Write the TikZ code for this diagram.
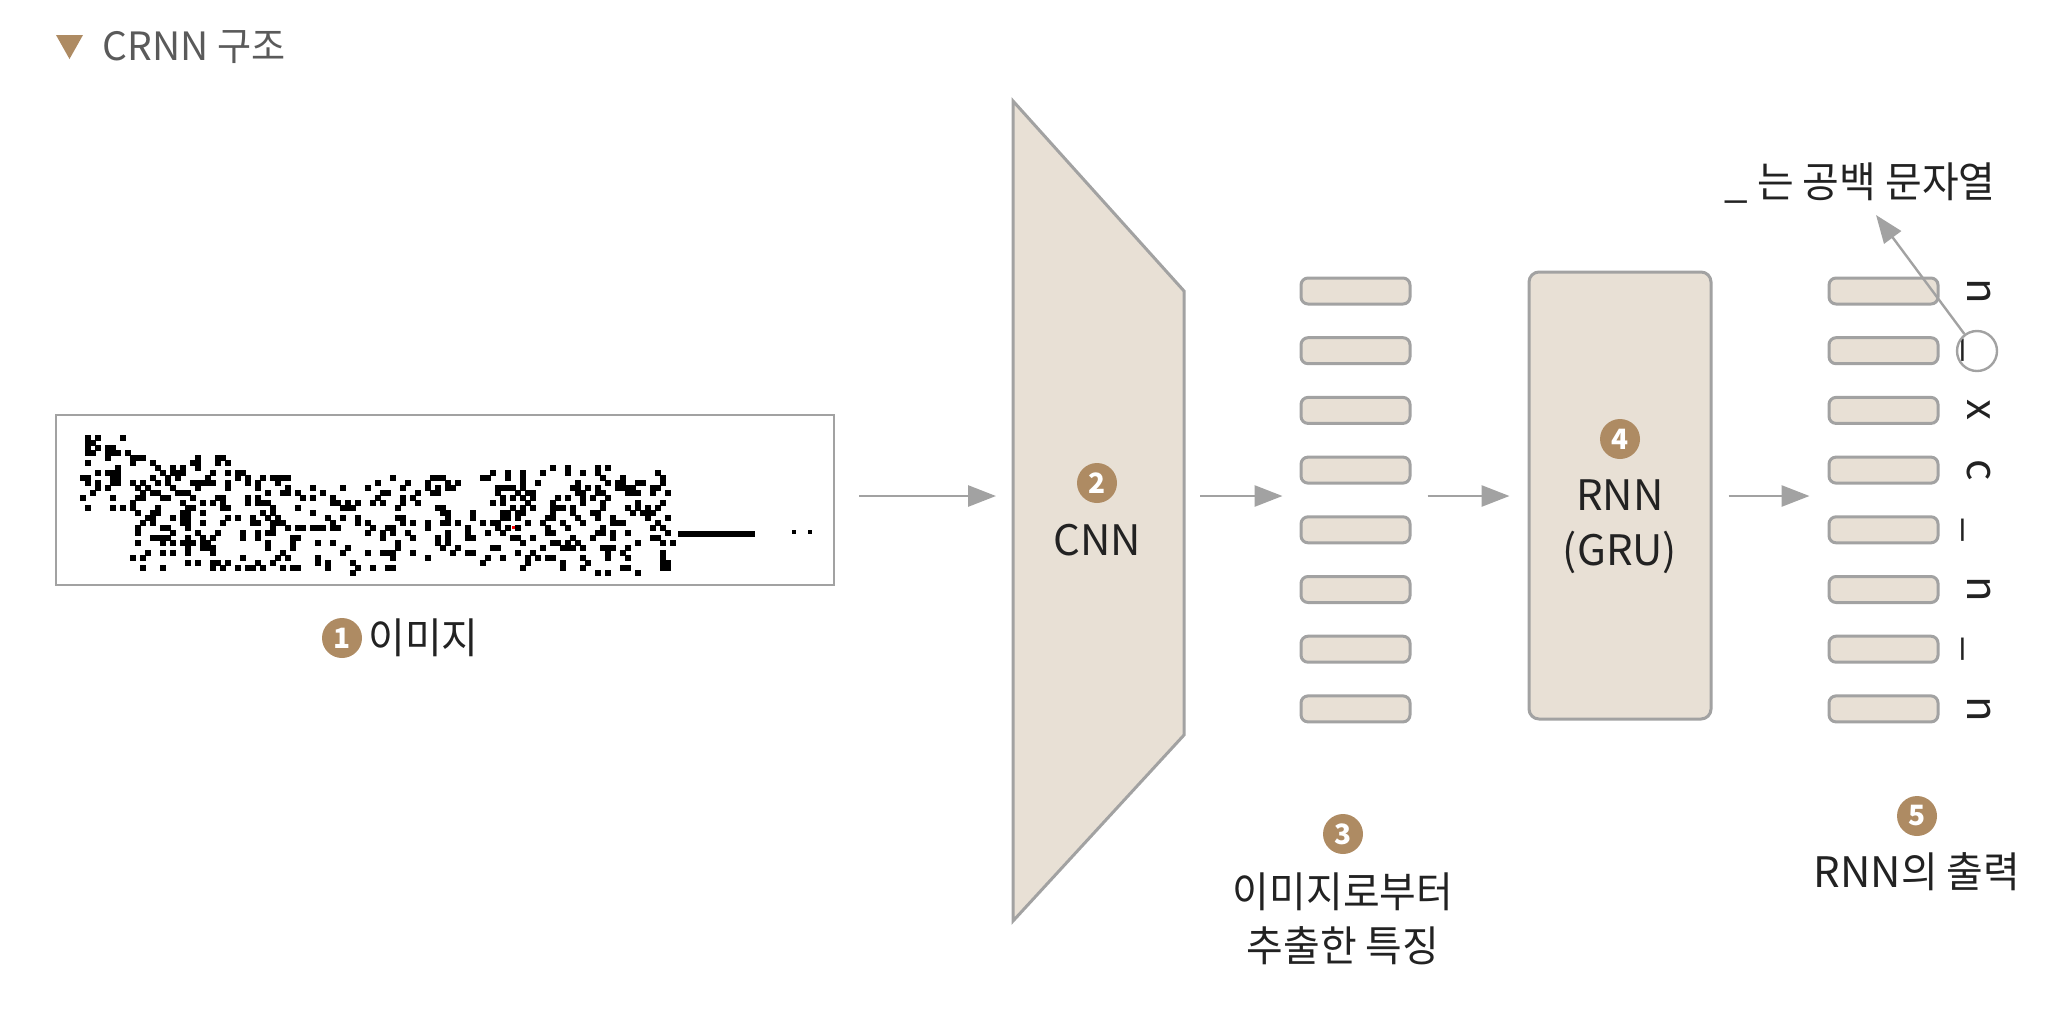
\documentclass[tikz,border=0pt]{standalone}
\usepackage{fontspec}
\setmainfont{Noto Sans CJK KR}
\newfontfamily\kr{Noto Sans CJK KR}[FakeStretch=0.95]
\usetikzlibrary{arrows.meta}
\definecolor{beige}{HTML}{E8E0D5}
\definecolor{edge}{HTML}{A2A2A2}
\definecolor{bronze}{HTML}{AE8B63}
\definecolor{ink}{HTML}{222222}
\definecolor{titlegray}{HTML}{5A5A5A}
\begin{document}
\begin{tikzpicture}[x=0.5pt,y=-0.5pt,
    box/.style={draw=edge,fill=beige,line width=1.5pt},
    cell/.style={box,rounded corners=3.5pt,minimum width=54.5pt,minimum height=13pt},
    badge/.style={circle,fill=bronze,text=white,minimum size=20pt,font=\fontsize{14}{14}\selectfont\bfseries},
    label/.style={text=ink,align=center,font=\fontsize{21}{27}\selectfont},
    labelkr/.style={text=ink,align=center,font=\kr\fontsize{21}{27}\selectfont},
    letter/.style={text=ink,rotate=-90,anchor=base,font=\fontsize{21}{21}\selectfont},
    arr/.style={draw=edge,line width=1.4pt,-{Triangle[length=14pt,width=10.5pt]}}]
            \tikzstyle{every node}+=[inner sep=0pt]
            \useasboundingbox (0,0) rectangle (2054,1030);
            \fill [bronze] (56,35) -- (83,35) -- (69.5,59) -- cycle;
            \node [anchor=west,text=titlegray,font=\fontsize{19.5}{19.5}\selectfont] (ttl) at (102,47) {CRNN {\kr 구조}};
            \node [draw=edge,line width=1.2pt,minimum width=389pt,minimum height=85pt] (img) at (445,500) {};
            \pgfmathsetseed{11}
            \foreach \xa/\xb/\ya/\yb/\n in {79/126/432/510/45, 131/228/455/567/140, 233/301/472/567/75, 309/417/477/570/80,
                                           424/471/473/557/45, 479/542/468/567/70, 545/610/463/570/85, 610/668/468/568/70}{
                \foreach \k in {1,...,\n}{
                    \pgfmathsetmacro\px{5*round((\xa+rnd*(\xb-\xa))/5)}
                    \pgfmathsetmacro\py{5*round((\ya+rnd*(\yb-\ya))/5)}
                    \fill (\px,\py) rectangle ++(6,6);
                }
            }
            \fill (678,531) rectangle (755,537);
            \fill (792,530) rectangle ++(4,4);
            \fill (808,530) rectangle ++(4,4);
            \fill [red] (512,526) rectangle ++(3,3);
            \node [badge] (n1) at (342,638) {1};
            \node [labelkr,anchor=west] (lab1) at (368,638) {이미지};
            \draw [box] (1013,101) -- (1184,291) -- (1184,735) -- (1013,921) -- cycle;
            \coordinate (cnnW) at (1013,496);
            \coordinate (cnnE) at (1184,496);
            \node [badge] (n2) at (1097,483) {2};
            \node [label] (cnn) at (1097,540) {CNN};
            \foreach \i in {1,...,8}{
                \node [cell] (f\i) at (1355.5,{291+59.7*(\i-1)}) {};
                \node [cell] (o\i) at (1883.5,{291+59.7*(\i-1)}) {};
            }
            \foreach \c [count=\i] in {n,\_,x,c,\_,n,\_,n}
                \node [letter] (l\i) at (1967,{291+59.7*(\i-1)}) {\c};
            \node [box,rounded corners=5pt,minimum width=91pt,minimum height=223.5pt] (rnn) at (1620,495.5) {};
            \node [badge] (n4) at (1620,439) {4};
            \node [label] (rnnA) at (1620,495) {RNN};
            \node [label] (rnnB) at (1620,552) {(GRU)};
            \node [badge] (n3) at (1343,834) {3};
            \node [labelkr] (lab3) at (1343,919) {이미지로부터\\추출한 특징};
            \node [badge] (n5) at (1917,816) {5};
            \node [label] (lab5) at (1917,872) {RNN{\kr 의 출력}};
            \node [label,anchor=west] (note) at (1724,183) {\_ {\kr 는 공백 문자열}};
            \node [draw=edge,circle,line width=1.2pt,minimum size=20pt] (ring) at (1977,351) {};
            \coordinate (tip) at (1876,215);
            \draw [arr,shorten <=12pt,shorten >=8.5pt] (img.east |- cnnW) -- (cnnW);
            \draw [arr,shorten <=8pt,shorten >=8.5pt] (cnnE) -- (cnnE -| f1.west);
            \draw [arr,shorten <=8pt,shorten >=9pt] (f1.east |- cnnE) -- (cnnE -| rnn.west);
            \draw [arr,shorten <=8pt,shorten >=9pt] (rnn.east |- cnnE) -- (cnnE -| o1.west);
            \draw [arr,line width=1.2pt] (ring) -- (tip);
        \end{tikzpicture}
\end{document}
